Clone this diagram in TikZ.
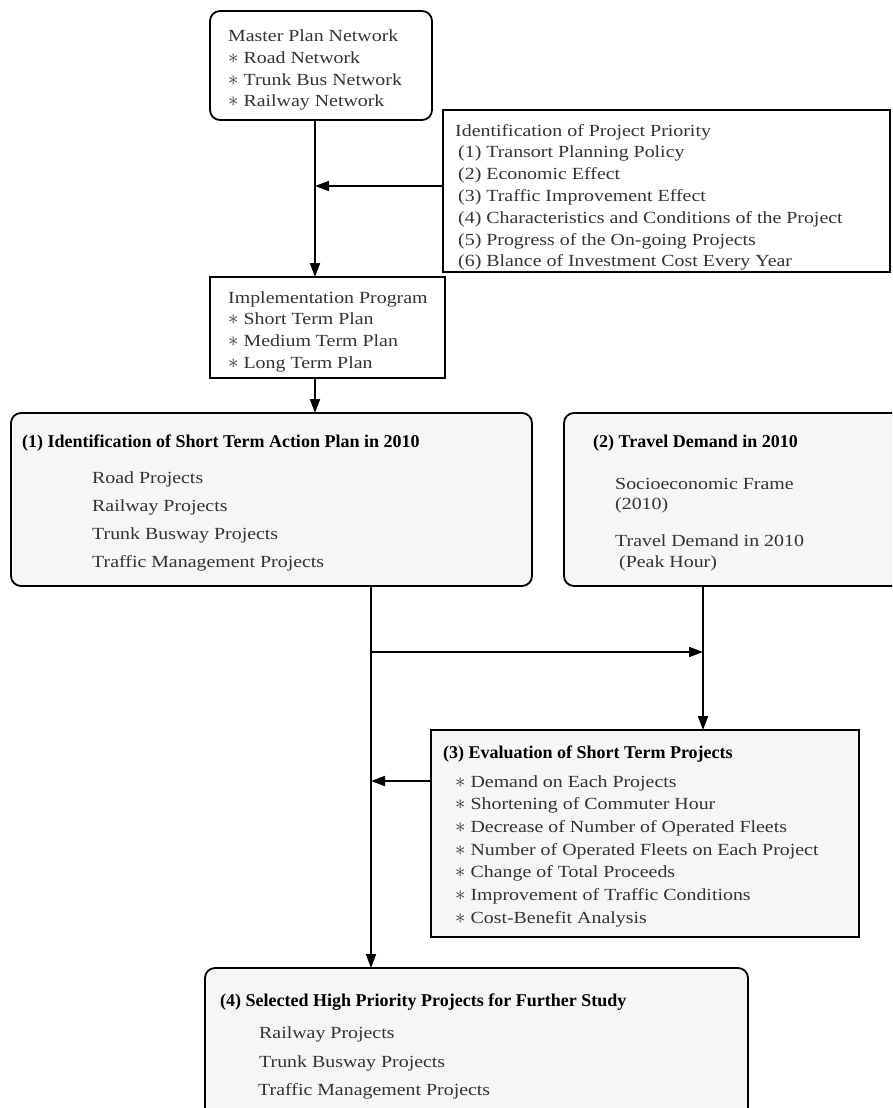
\documentclass[tikz,border=0pt]{standalone}
\usepackage{fontspec}
\setmainfont{Liberation Serif}[FakeStretch=1.17]
\newfontfamily\hfont{Liberation Serif}
\usetikzlibrary{arrows.meta,calc}
\definecolor{boxgray}{HTML}{F6F6F6}
\definecolor{textgray}{HTML}{333333}
\newcommand{\bigast}{\smash{\fontsize{22}{22}\selectfont$\ast$}\hspace{5pt}}
\begin{document}
\begin{tikzpicture}[x=1pt,y=-1pt,
  box/.style={draw=black, line width=1.8pt, anchor=north west, inner sep=0pt, outer sep=0pt},
  rbox/.style={box, rounded corners=10pt},
  gbox/.style={fill=boxgray},
  body/.style={anchor=base west, inner sep=0pt, font=\fontsize{17}{20}\selectfont, text=textgray},
  head/.style={anchor=base west, inner sep=0pt, font=\hfont\bfseries\fontsize{18}{21}\selectfont, text=black},
  arr/.style={line width=1.8pt, -{Triangle[length=14pt,width=10pt]}},
  ln/.style={line width=1.8pt}]
\useasboundingbox (0,0) rectangle (892,1108);
\clip (0,0) rectangle (892,1108);
% boxes
\node[rbox, minimum width=222pt, minimum height=109pt] (master) at (210,11) {};
\node[box, minimum width=447pt, minimum height=162pt] (prio) at (443,110) {};
\node[box, minimum width=235pt, minimum height=101pt] (impl) at (210,277) {};
\node[rbox, gbox, minimum width=521pt, minimum height=173pt] (box1) at (11,413) {};
\node[rbox, gbox, minimum width=346pt, minimum height=173pt] (box2) at (564,413) {};
\node[box, gbox, minimum width=428pt, minimum height=207pt] (box3) at (431,730) {};
\node[rbox, gbox, minimum width=543pt, minimum height=157pt] (box4) at (205,968) {};
% texts
\node[body] (mt0) at (228,42) {Master Plan Network};
\foreach \t [count=\i from 1] in {Road Network,Trunk Bus Network,Railway Network}
  \node[body] (mt\i) at (228,42+21.5*\i) {\bigast\t};
\node[body] (pt) at (455,136) {Identification of Project Priority};
\foreach \t [count=\i from 1] in {(1) Transort Planning Policy,(2) Economic Effect,(3) Traffic Improvement Effect,(4) Characteristics and Conditions of the Project,(5) Progress of the On-going Projects,(6) Blance of Investment Cost Every Year}
  \node[body] (pt\i) at (458,136+21.8*\i) {\t};
\node[body] (it0) at (228,303) {Implementation Program};
\foreach \t [count=\i from 1] in {Short Term Plan,Medium Term Plan,Long Term Plan}
  \node[body] (it\i) at (228,303+21.7*\i) {\bigast\t};
\node[head] (h1) at (22,447) {(1) Identification of Short Term Action Plan in 2010};
\foreach \t [count=\i from 0] in {Road Projects,Railway Projects,Trunk Busway Projects,Traffic Management Projects}
  \node[body] (bt\i) at (92,483+28*\i) {\t};
\node[head] (h2) at (593,447) {(2) Travel Demand in 2010};
\node[body] (c1) at (615,489) {Socioeconomic Frame};
\node[body] (c2) at (615,509) {(2010)};
\node[body] (c3) at (615,546) {Travel Demand in 2010};
\node[body] (c4) at (619,567) {(Peak Hour)};
\node[head] (h3) at (443,758) {(3) Evaluation of Short Term Projects};
\foreach \t [count=\i from 0] in {Demand on Each Projects,Shortening of Commuter Hour,Decrease of Number of Operated Fleets,Number of Operated Fleets on Each Project,Change of Total Proceeds,Improvement of Traffic Conditions,Cost-Benefit Analysis}
  \node[body] (et\i) at (455,787+22.7*\i) {\bigast\t};
\node[head] (h4) at (220,1006) {(4) Selected High Priority Projects for Further Study};
\node[body] (s1) at (259,1038) {Railway Projects};
\node[body] (s2) at (259,1067) {Trunk Busway Projects};
\node[body] (s3) at (258,1095) {Traffic Management Projects};
% connector coordinates
\coordinate (spA) at (315,0);
\coordinate (spB) at (371,0);
\coordinate (spC) at (703,0);
\coordinate (jP) at (0,186);
\coordinate (jH) at (0,652);
\coordinate (jE) at (0,781);
% connectors
\draw[arr] (master.south -| spA) -- (impl.north -| spA);
\draw[arr] (prio.west |- jP) -- (jP -| spA);
\draw[arr] (impl.south -| spA) -- (box1.north -| spA);
\draw[arr] (box1.south -| spB) -- (box4.north -| spB);
\draw[arr] (jH -| spB) -- (jH -| spC);
\draw[arr] (box2.south -| spC) -- (box3.north -| spC);
\draw[arr] (box3.west |- jE) -- (jE -| spB);
\end{tikzpicture}
\end{document}
